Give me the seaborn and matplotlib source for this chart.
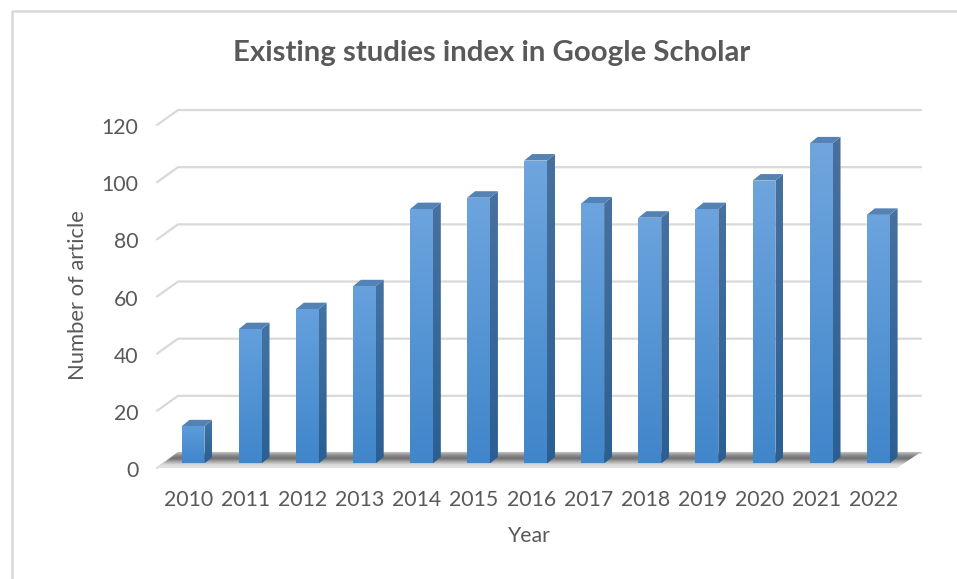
import matplotlib
matplotlib.use('Agg')
import matplotlib.pyplot as plt
from matplotlib.colors import LinearSegmentedColormap
from matplotlib.lines import Line2D
from matplotlib.patches import Polygon
from matplotlib.transforms import IdentityTransform, ScaledTranslation
import numpy as np
import pandas as pd
import seaborn as sns

years = ['2010', '2011', '2012', '2013', '2014', '2015', '2016',
         '2017', '2018', '2019', '2020', '2021', '2022']
articles = [13, 47, 54, 62, 89, 93, 106, 91, 86, 89, 99, 112, 87]
y_ticks = [0, 20, 40, 60, 80, 100, 120]

W, H, DPI = 957, 579, 100
TEXT = '#595959'
GRID = '#d9d9d9'

sns.set_theme(style='white')
plt.rcParams['font.family'] = ['Lato', 'DejaVu Sans']

fig = plt.figure(figsize=(W / DPI, H / DPI), dpi=DPI, facecolor='white')

# axes in pixels: bar plane has 0 at y=463.5, 2.858 px per article, 57.1 px per year
left, right, top, bottom = 150, 930, 100, 472
ax = fig.add_axes([left / W, 1 - bottom / H, (right - left) / W, (bottom - top) / H])
ax.patch.set_alpha(0)

df = pd.DataFrame({'year': years, 'articles': articles})
sns.barplot(data=df, x='year', y='articles', color='#5b9bd5', width=0.4, saturation=1, ax=ax, zorder=3)
bars = list(ax.patches)

ax.set_xlim((left - 193) / 57.1, (right - 193) / 57.1)
ax.set_ylim((463.5 - bottom) / 2.858, (463.5 - top) / 2.858)
ax.set_yticks(y_ticks)
for s in ax.spines.values():
    s.set_visible(False)


def px(x, y):
    return (x, H - y)


def grad_image(x0, x1, y0, y1, colors, clip, z):
    # vertical gradient, first colour at the top. coords are in display pixels
    cmap = LinearSegmentedColormap.from_list('g', colors)
    im = ax.imshow(np.linspace(0, 1, 256).reshape(-1, 1), cmap=cmap, aspect='auto',
                   extent=(x0, x1, y0, y1), origin='upper',
                   transform=IdentityTransform(), zorder=z, interpolation='bilinear')
    im.set_clip_path(clip)
    return im


# back wall grid
for v in y_ticks:
    y_front = ax.transData.transform((0, v))[1]
    y_back = y_front + 10.5
    ax.add_line(Line2D([157, 178, 921], [y_back - 15, y_back, y_back], color=GRID, lw=1.6,
                       transform=IdentityTransform(), zorder=1, clip_on=False))

# floor
floor = Polygon([px(157, 468), px(178, 452), px(921, 452), px(897, 468)], closed=True,
                transform=IdentityTransform(), facecolor='none', edgecolor='none', zorder=2)
ax.add_patch(floor)
grad_image(157, 921, H - 468, H - 452, ['#c4c4c4', '#8c8c8c', '#707070', '#a8a8a8', '#dcdcdc', '#e2e2e2'], floor, 2)

# bars: front, side and top faces
dx, dy = 8, 6.5
for bar, v in zip(bars, articles):
    (x0, y0), (x1, y1) = ax.transData.transform([(bar.get_x(), 0), (bar.get_x() + bar.get_width(), v)])
    bar.set_facecolor('none')
    bar.set_edgecolor('none')
    t = v / 120
    top_col = np.array([0x5a, 0x9b, 0xdc]) * (1 - t) + np.array([0x72, 0xa7, 0xdf]) * t
    top_side = np.array([0x3f, 0x76, 0xa8]) * (1 - t) + np.array([0x4a, 0x70, 0x9c]) * t
    side = Polygon([(x1, y0), (x1 + dx, y0 + dy), (x1 + dx, y1 + dy), (x1, y1)], closed=True,
                   transform=IdentityTransform(), facecolor='none', edgecolor='none', zorder=3)
    ax.add_patch(side)
    grad_image(x1, x1 + dx, y0, y1 + dy, [top_side / 255, '#2b5f92'], side, 3)
    cap = Polygon([(x0, y1), (x1, y1), (x1 + dx, y1 + dy), (x0 + dx, y1 + dy)], closed=True,
                  transform=IdentityTransform(), facecolor='#5482b4', edgecolor='none', zorder=4)
    ax.add_patch(cap)
    front = Polygon([(x0, y0), (x1, y0), (x1, y1), (x0, y1)], closed=True,
                    transform=IdentityTransform(), facecolor='none', edgecolor='none', zorder=4)
    ax.add_patch(front)
    grad_image(x0, x1, y0, y1, [top_col / 255, '#4086ca'], front, 4)

ax.set_xlim((left - 193) / 57.1, (right - 193) / 57.1)
ax.set_ylim((463.5 - bottom) / 2.858, (463.5 - top) / 2.858)

ax.tick_params(axis='both', length=0, labelsize=15.3, labelcolor=TEXT)
ax.tick_params(axis='y', pad=8.2)
ax.tick_params(axis='x', pad=-1)
ax.set_xlabel('')
ax.set_ylabel('')
y_shift = ScaledTranslation(0, -5.5 / DPI, fig.dpi_scale_trans)
for lab in ax.get_yticklabels():
    lab.set_transform(lab.get_transform() + y_shift)
x_shift = ScaledTranslation(-4.5 / DPI, -19 / DPI, fig.dpi_scale_trans)
for lab in ax.get_xticklabels():
    lab.set_transform(lab.get_transform() + x_shift)

fig.text(491.5 / W, 1 - 53 / H, 'Existing studies index in Google Scholar', ha='center', va='center',
         fontsize=21.2, fontweight='bold', color=TEXT)
fig.text(78 / W, 1 - 295 / H, 'Number of article', rotation=90, ha='center', va='center',
         fontsize=15.8, color=TEXT)
fig.text(529 / W, 1 - 536 / H, 'Year', ha='center', va='center', fontsize=15.3, color=TEXT)

# chart frame, open at the right and bottom
fig.add_artist(Line2D([11.5 / W, 11.5 / W, 1], [0, 1 - 10.5 / H, 1 - 10.5 / H], color=GRID, lw=1.8))

fig.savefig('out.png', dpi=DPI)
